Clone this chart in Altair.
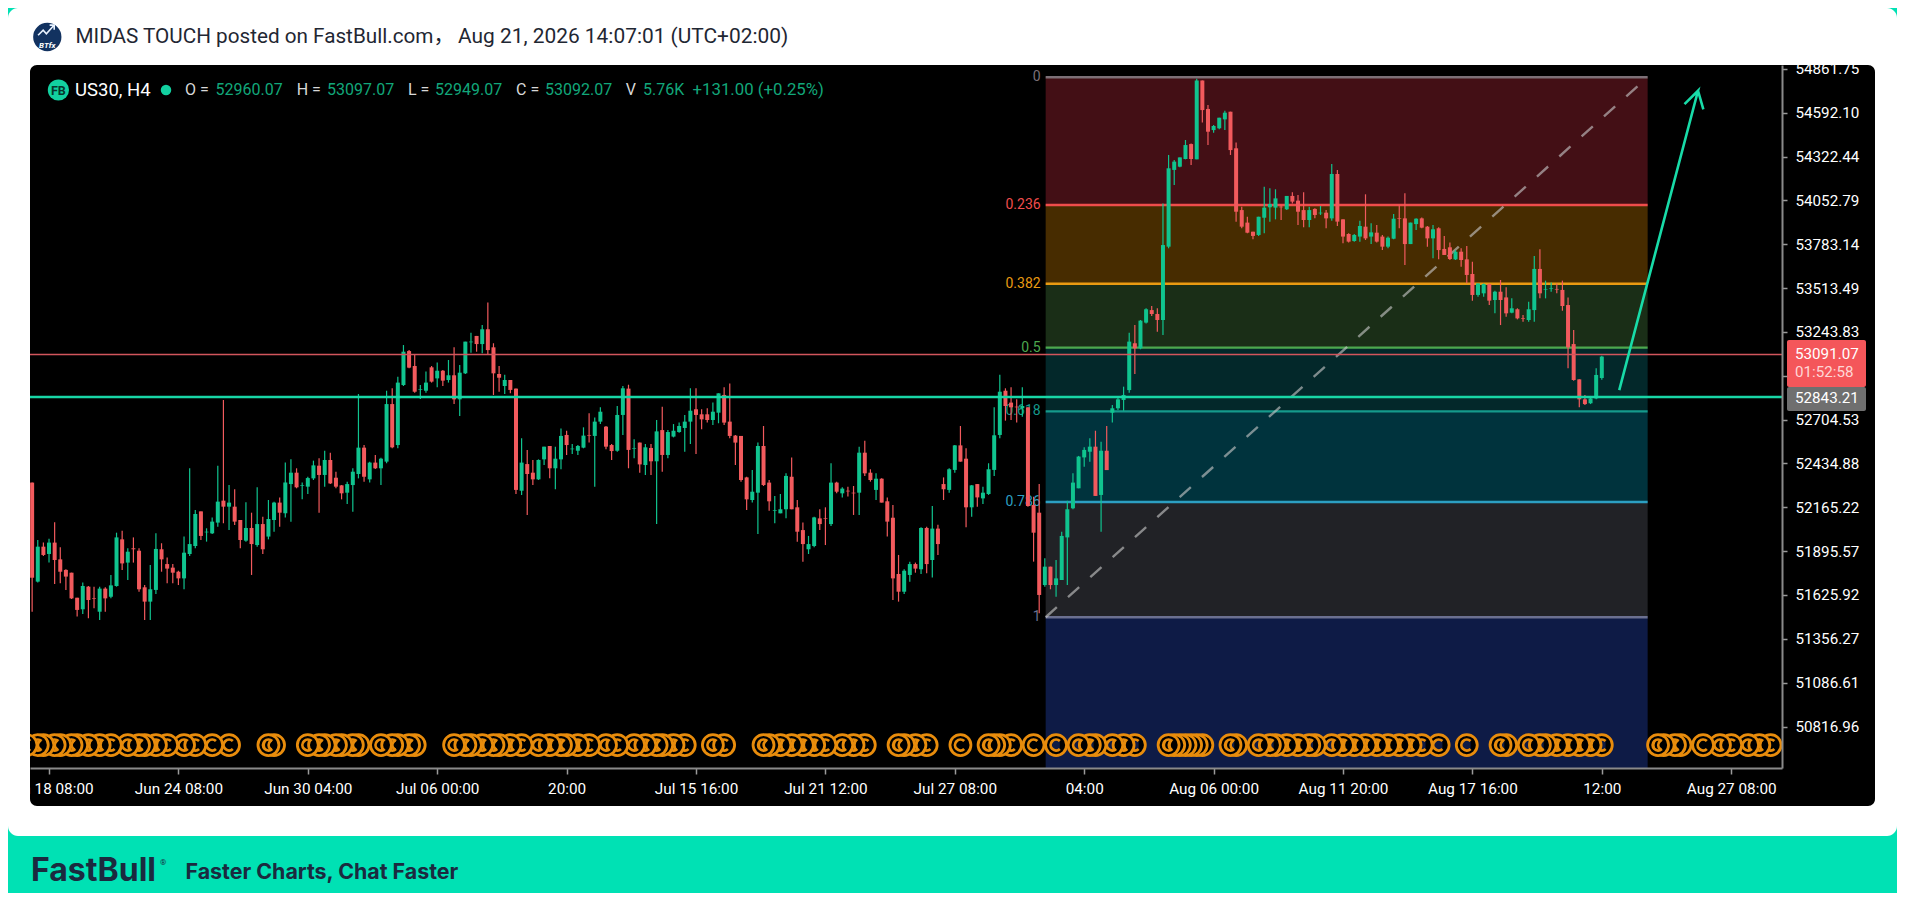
import altair as alt
import pandas as pd

opens = [52317,51708,51923,51878,51948,51845,51780,51763,51609,51538,
51677,51605,51523,51665,51615,51681,51968,51825,51913,51898,
51673,51585,51657,51907,51816,51794,51769,51728,51878,51927,
52140,52011,52005,52071,52206,52169,52169,52087,51960,52038,
51933,52062,51985,52087,52194,52128,52308,52378,52298,52292,
52343,52421,52364,52456,52347,52300,52255,52302,52370,52532,
52337,52440,52405,52446,52800,52548,52917,53126,53034,52887,
52882,53026,52958,53005,52948,52977,52829,52989,53180,53219,
53169,53260,53149,52985,52911,52948,52895,52267,52431,52378,
52337,52460,52542,52405,52460,52610,52522,52513,52532,52610,
52604,52692,52661,52548,52513,52733,52895,52526,52563,52425,
52530,52448,52640,52487,52600,52628,52653,52692,52768,52737,
52737,52702,52747,52856,52692,52606,52604,52349,52210,52255,
52542,52317,52144,52128,52153,52353,52165,52025,51907,51927,
52097,52097,52062,52317,52251,52267,52255,52255,52501,52378,
52272,52341,52202,52101,51755,51646,51749,51816,51784,52038,
51841,52034,52308,52272,52395,52546,52464,52165,52308,52220,
52247,52395,52610,52882,52809,52784,52774,52780,52179,52132,
51687,51800,51687,51718,51980,52159,52282,52472,52507,52538,
52241,52513,52747,52774,52825,52886,53174,53143,53301,53378,
53354,53317,53768,54240,54260,54307,54399,54305,54790,54615,
54485,54496,54551,54598,54373,53993,53916,53860,53840,53946,
54010,54008,54014,53998,54080,54051,53993,53932,54000,53973,
53977,53942,54215,53936,53846,53803,53830,53891,53830,53854,
53830,53768,53817,53942,53942,53784,53907,53942,53891,53819,
53881,53754,53764,53690,53737,53690,53600,53471,53481,53538,
53440,53491,53456,53362,53383,53329,53317,53378,53631,53504,
53510,53508,53502,53409,53169,52952,52829,52805,52835,52960.07]

highs = [52317,51964,51948,51972,52073,51919,51784,51763,51609,51702,
51681,51677,51677,51673,51749,52009,52021,51913,51980,51913,
51687,51810,52005,51944,51857,51816,51775,51985,52405,52148,
52140,52036,52103,52421,52825,52302,52276,52087,52196,52132,
52288,52107,52210,52200,52226,52440,52460,52405,52317,52353,
52452,52466,52513,52501,52384,52302,52323,52405,52862,52548,
52446,52487,52470,52882,52897,52968,53163,53132,53102,52917,
53000,53034,53055,53010,53071,53149,53040,53184,53239,53219,
53286,53424,53174,53034,52981,52948,52895,52589,52518,52456,
52460,52538,52542,52538,52649,52636,52554,52548,52657,52743,
52718,52780,52665,52554,52788,52911,52919,52583,52563,52554,
52554,52702,52784,52640,52677,52686,52733,52897,52897,52768,
52774,52809,52866,52903,52927,52610,52604,52353,52395,52563,
52665,52333,52235,52247,52374,52472,52210,52071,51989,52107,
52153,52165,52436,52323,52288,52292,52296,52538,52575,52399,
52374,52343,52226,52179,51872,51784,51831,51825,52042,52046,
52173,52058,52349,52405,52548,52665,52528,52302,52308,52292,
52436,52780,52981,52897,52903,52829,52903,52780,52230,52308,
51851,51800,51841,52015,52206,52374,52481,52534,52589,52636,
52569,52665,52794,52841,52907,53239,53286,53317,53389,53403,
53389,54034,54332,54301,54317,54424,54403,54800,54790,54639,
54516,54561,54604,54598,54408,54014,53952,53860,53952,54137,
54127,54121,54024,54080,54102,54086,54102,54014,54004,54018,
53993,54276,54240,53936,53850,53846,53928,54090,53912,53901,
53840,53830,53969,54024,54096,53916,53942,53948,53895,53901,
53887,53834,53793,53747,53758,53772,53676,53542,53542,53542,
53497,53563,53518,53450,53389,53348,53430,53711,53752,53559,
53547,53542,53559,53456,53256,52952,52856,52850,53020,53097.07]

lows = [51523,51702,51866,51825,51693,51698,51657,51601,51493,51509,
51482,51544,51472,51523,51605,51677,51780,51718,51825,51646,
51472,51472,51632,51769,51698,51698,51687,51661,51866,51913,
51964,51954,52001,52046,52067,52025,52056,51913,51954,51749,
51923,51878,51968,52015,52046,52103,52077,52282,52214,52247,
52333,52132,52292,52308,52282,52214,52185,52138,52343,52323,
52317,52400,52302,52436,52528,52528,52911,53020,52870,52831,
52870,52932,52903,52911,52932,52800,52727,52985,53116,53122,
53112,53108,52856,52876,52862,52866,52247,52241,52118,52302,
52333,52425,52343,52276,52399,52487,52493,52487,52528,52563,
52292,52677,52522,52456,52507,52610,52405,52466,52378,52364,
52364,52062,52384,52466,52595,52624,52507,52554,52493,52645,
52686,52671,52682,52671,52589,52425,52323,52148,52194,52001,
52296,52144,52067,52128,52097,52153,51954,51831,51878,51919,
52025,51933,52050,52251,52226,52231,52118,52118,52358,52323,
52210,52194,51985,51595,51585,51632,51708,51763,51755,51759,
51734,51872,52210,52255,52378,52446,52042,52107,52169,52185,
52241,52358,52589,52698,52702,52686,52722,52169,51831,51513,
51677,51661,51615,51718,51687,52153,52282,52415,52446,52235,
52015,52394,52686,52763,52759,52870,52985,53137,53296,53342,
53245,53225,53758,54147,54256,54305,54270,54305,54531,54393,
54469,54490,54485,54332,53922,53881,53850,53813,53834,53850,
53922,53936,53932,53993,54034,53901,53887,53887,53942,53963,
53881,53928,53895,53789,53793,53799,53799,53809,53784,53793,
53747,53758,53813,53881,53655,53784,53871,53881,53768,53696,
53690,53717,53686,53686,53645,53543,53436,53460,53460,53409,
53358,53286,53337,53358,53321,53307,53307,53307,53450,53450,
53491,53481,53374,53020,52944,52780,52794,52800,52829,52949.07]

closes = [51732,51923,51872,51948,51841,51769,51739,51605,51534,51681,
51595,51601,51665,51605,51685,51980,51820,51892,51907,51661,
51585,51661,51909,51845,51788,51763,51728,51886,51939,52124,
51989,52015,52077,52200,52169,52194,52077,51964,52038,51939,
52062,51907,52093,52194,52132,52317,52378,52288,52302,52345,
52423,52364,52456,52312,52292,52251,52308,52384,52532,52353,
52440,52405,52464,52800,52534,52932,53122,53024,52876,52891,
52932,52938,53005,52944,52977,52829,52993,53184,53184,53169,
53260,53132,52989,52962,52948,52887,52272,52440,52370,52337,
52456,52538,52405,52464,52604,52548,52526,52542,52606,52606,
52692,52753,52538,52511,52733,52897,52518,52530,52429,52534,
52448,52632,52487,52628,52636,52665,52692,52759,52733,52706,
52702,52753,52866,52686,52604,52563,52333,52214,52261,52542,
52302,52202,52148,52153,52358,52153,52015,51939,51939,52103,
52062,52093,52317,52261,52280,52263,52251,52501,52374,52333,
52341,52194,52077,51728,51646,51775,51816,51788,52038,51816,
52034,51939,52276,52399,52546,52446,52165,52300,52226,52255,
52399,52608,52876,52788,52780,52780,52788,52173,52009,51626,
51800,51687,51728,51989,52153,52317,52477,52518,52538,52235,
52513,52394,52774,52829,52856,53184,53143,53313,53383,53354,
53317,53778,54250,54291,54317,54393,54307,54790,54608,54475,
54510,54561,54592,54362,53983,53891,53854,53834,53952,54008,
54030,54065,54010,54080,54045,53983,53932,53993,53963,53977,
53942,54215,53922,53830,53799,53840,53895,53819,53856,53799,
53768,53823,53940,53938,53784,53916,53940,53885,53819,53875,
53747,53717,53692,53737,53686,53594,53471,53542,53538,53436,
53491,53440,53358,53389,53327,53325,53383,53631,53481,53508,
53514,53504,53403,53149,52948,52829,52800,52835,52979,53092.07]

first_bar = -3
tick_labels = ["Jun 18 08:00","Jun 24 08:00","Jun 30 04:00","Jul 06 00:00","20:00","Jul 15 16:00",
               "Jul 21 12:00","Jul 27 08:00","04:00","Aug 06 00:00","Aug 11 20:00","Aug 17 16:00",
               "12:00","Aug 27 08:00"]
tick_bars = [0,23,46,69,92,115,138,161,184,207,230,253,276,299]
price_ticks = [54861.75,54592.10,54322.44,54052.79,53783.14,53513.49,53243.83,52974.18,
               52704.53,52434.88,52165.22,51895.57,51625.92,51356.27,51086.61,50816.96]

fib_names = ["0","0.236","0.382","0.5","0.618","0.786","1"]
fib_prices = [54810,54024,53540,53147,52755,52198,51489]
fib_lines = ["#7c7077","#f04d4c","#e99a12","#4ca84f","#159a8c","#2c9fc2","#6b7090"]
fib_fills = ["#430f15","#472c00","#1a2e17","#03282a","#00333d","#212226","#0e1b46"]
fib_left, fib_right = 177.15, 284.15

support_price = 52843.21
last_price_line = 53105
coin_bars = [-4,-2,-1,1,2,4,5,7,9,11,14,16,17,19,21,24,26,29,32,39,40,46,48,49,51,52,54,55,59,61,62,64,65,
72,74,75,77,79,80,82,84,87,89,91,92,94,96,99,101,104,106,108,109,111,113,118,120,127,128,130,132,134,136,
138,141,143,145,151,152,154,156,162,167,168,169,171,175,179,183,185,186,189,191,193,199,200,201,202,203,
204,205,210,211,215,217,218,220,222,224,225,228,230,232,234,236,238,240,242,244,247,252,258,259,263,265,
266,268,270,272,274,276,286,287,289,290,294,297,299,302,304,306]
coin_price = 50703
arrow_bars = [279.1,293.1,290.7,293.1,294.05]
arrow_prices = [52886,54727,54645,54727,54613]
diag_bars = [fib_left, fib_right]
diag_prices = [51489,54810]

DOM_X = [-3.38, 308.03]
DOM_Y = [50561.8, 54885.25]
xs = alt.Scale(domain=DOM_X, nice=False, zero=False, padding=0)
ys = alt.Scale(domain=DOM_Y, nice=False, zero=False, padding=0)
GREEN, RED = "#10c48f", "#f25a5d"
TEAL = "#00e1b4"
FONT = "Roboto"

bars = pd.DataFrame({"i": range(first_bar, first_bar + len(opens)), "o": opens, "h": highs, "l": lows, "c": closes})
bars["d"] = ["up" if c >= o else "down" for o, c in zip(opens, closes)]
colour = alt.Color("d:N", scale=alt.Scale(domain=["up","down"], range=[GREEN, RED]), legend=None)

expr_x = "[" + ",".join("'%s'" % t for t in tick_labels) + "][datum.value/23]"
x_axis = alt.Axis(values=tick_bars, labelExpr=expr_x, title=None, grid=False, zindex=1, domainColor="#8a8a8a",
                  domainWidth=2, tickColor="#9a9a9a", tickWidth=1.5, tickSize=6, labelPadding=7, labelColor="#ffffff",
                  labelFont=FONT, labelFontSize=15.3, labelOverlap=False, labelFlush=False)
y_axis = alt.Axis(values=price_ticks, orient="right", title=None, grid=False, zindex=1, domainColor="#8a8a8a",
                  domainWidth=2, tickColor="#9a9a9a", tickWidth=1.5, tickSize=5, labelPadding=8, labelColor="#ffffff",
                  labelFont=FONT, labelFontSize=15.2, labelOverlap=False, labelFlush=False,
                  labelExpr="datum.value==52974.18?'':format(datum.value,'.2f')")

def X(f):
    return alt.X(f, scale=xs, axis=x_axis)

def Y(f):
    return alt.Y(f, scale=ys, axis=y_axis)

blank = alt.Data(values=[{"k": 1}])
OX, OY = 30, 65  # page position of the plot origin

def box(x0, y0, x1, y1, col, r=0):
    return alt.Chart(blank).mark_rect(color=col, cornerRadius=r).encode(
        x=alt.value(x0 - OX), x2=alt.value(x1 - OX), y=alt.value(y0 - OY), y2=alt.value(y1 - OY))

def txt(s, x, y, col, size, weight="normal", align="left", font=FONT, style="normal"):
    return alt.Chart(blank).mark_text(text=s, color=col, fontSize=size, fontWeight=weight, align=align,
                                      baseline="middle", font=font, fontStyle=style).encode(
        x=alt.value(x - OX), y=alt.value(y - OY))

def dot(x, y, col, size):
    return alt.Chart(blank).mark_point(filled=True, color=col, size=size, opacity=1, shape="circle").encode(
        x=alt.value(x - OX), y=alt.value(y - OY))

frame = [box(8, 8, 1897, 893, TEAL), box(8, 8, 1897, 836, "#ffffff", 10), box(30, 65, 1875, 806, "#000000", 7)]

fib = pd.DataFrame({"top": fib_prices, "bot": fib_prices[1:] + [DOM_Y[0]], "fill": fib_fills, "line": fib_lines,
                    "name": fib_names, "x0": fib_left, "x1": fib_right})
bands = alt.Chart(fib).mark_rect().encode(x=X("x0:Q"), x2="x1:Q", y=Y("top:Q"), y2="bot:Q",
                                          color=alt.Color("fill:N", scale=None))
lines = alt.Chart(fib).mark_rule(strokeWidth=2.4).encode(x=X("x0:Q"), x2="x1:Q", y=Y("top:Q"),
                                                         color=alt.Color("line:N", scale=None))
labels = alt.Chart(fib).mark_text(align="right", baseline="middle", dx=-5, font=FONT, fontSize=14).encode(
    x=X("x0:Q"), y=Y("top:Q"), text="name:N", color=alt.Color("line:N", scale=None))
diag = alt.Chart(pd.DataFrame({"x": diag_bars, "y": diag_prices})).mark_line(
    color="#c8c8c8", opacity=0.62, strokeWidth=2.4, strokeDash=[15, 15]).encode(x=X("x:Q"), y=Y("y:Q"))

COIN = "M1,0A1,1,0,1,1,-1,0A1,1,0,1,1,1,0Z M0.36,-0.38A0.52,0.52,0,1,0,0.36,0.38"
coins = alt.Chart(pd.DataFrame({"x": coin_bars[::-1], "y": coin_price})).mark_point(
    shape=COIN, size=440, fill="#000000", fillOpacity=1, stroke="#e88c0c", strokeWidth=2.8, opacity=1, clip=True).encode(
    x=X("x:Q"), y=Y("y:Q"))

wicks = alt.Chart(bars).mark_rule(strokeWidth=1.2).encode(x=X("i:Q"), y=Y("h:Q"), y2="l:Q", color=colour)
bodies = alt.Chart(bars).mark_bar(size=4, orient="vertical").encode(x=X("i:Q"), y=Y("o:Q"), y2="c:Q", color=colour)

support = alt.Chart(pd.DataFrame({"p": [support_price]})).mark_rule(color="#18d6a6", strokeWidth=2.5).encode(y=Y("p:Q"))
last_line = alt.Chart(pd.DataFrame({"p": [last_price_line]})).mark_rule(color="#d2555c", strokeWidth=1.5).encode(y=Y("p:Q"))
arrow = alt.Chart(pd.DataFrame({"x": arrow_bars, "y": arrow_prices, "n": range(len(arrow_bars))})).mark_line(
    color="#18dba8", strokeWidth=2.6).encode(x=X("x:Q"), y=Y("y:Q"), order="n:Q")

boxes = [box(1787, 340, 1866, 387, "#f4565a", 2), box(1787, 387, 1866, 411, "#6f6f6f", 2),
         txt("53091.07", 1795, 354, "#ffffff", 15.2), txt("01:52:58", 1795, 372, "#ffd6d6", 15.2),
         txt("52843.21", 1795, 397.5, "#ffffff", 15.2)]

AVATAR = "M-1,0.35L-0.45,-0.2L-0.1,0.2L0.75,-0.75M0.25,-0.75L0.75,-0.75L0.75,-0.25"
avatar = [dot(47.3, 37, "#123260", 800),
          alt.Chart(blank).mark_point(shape=AVATAR, size=340, stroke="#e8f2ff", filled=False, strokeWidth=1.6, opacity=1).encode(
              x=alt.value(47.3 - OX), y=alt.value(32 - OY)),
          txt("BTfx", 47.3, 46, "#ffffff", 8, "bold", "center", style="italic")]

GV = "#12a77a"
CJK = "Roboto, 'Noto Sans CJK SC'"
header = avatar + [
    txt("MIDAS TOUCH posted on FastBull.com，", 75.5, 36.5, "#1f2733", 20.7, font=CJK),
    txt("Aug 21, 2026 14:07:01 (UTC+02:00)", 458, 36.5, "#1f2733", 20.9),
    dot(58.4, 90, "#12d0a0", 450), txt("FB", 58.4, 90.5, "#06372d", 12.5, "bold", "center"),
    txt("US30, H4", 75, 90, "#ffffff", 18.5), dot(166, 90, "#12d0a0", 110),
    txt("O =", 185, 90, "#d8d8d8", 16), txt("52960.07", 215.5, 90, GV, 16),
    txt("H =", 296.7, 90, "#d8d8d8", 16), txt("53097.07", 327, 90, GV, 16),
    txt("L =", 408, 90, "#d8d8d8", 16), txt("52949.07", 435, 90, GV, 16),
    txt("C =", 516, 90, "#d8d8d8", 16), txt("53092.07", 545, 90, GV, 16),
    txt("V", 625.7, 90, "#d8d8d8", 16), txt("5.76K", 643, 90, GV, 16),
    txt("+131.00 (+0.25%)", 692.5, 90, GV, 16.8),
    txt("FastBull", 31, 871, "#1b2a3f", 32, "bold", font="Inter"), txt("®", 160, 863, "#1b2a3f", 8),
    txt("Faster Charts, Chat Faster", 185.5, 873, "#1b2a3f", 21.4, "bold", font="Inter"),
]

chart = alt.layer(*frame, bands, lines, labels, diag, coins, wicks, bodies, last_line, support, arrow,
                  *boxes, *header).properties(
    width=1752, height=703, padding={"left": 22, "top": 57, "right": 115, "bottom": 125},
    autosize=alt.AutoSizeParams(type="none"), background="#ffffff").configure_view(strokeWidth=0)

chart.save("out.html", embed_options={"renderer": "svg", "actions": False})
